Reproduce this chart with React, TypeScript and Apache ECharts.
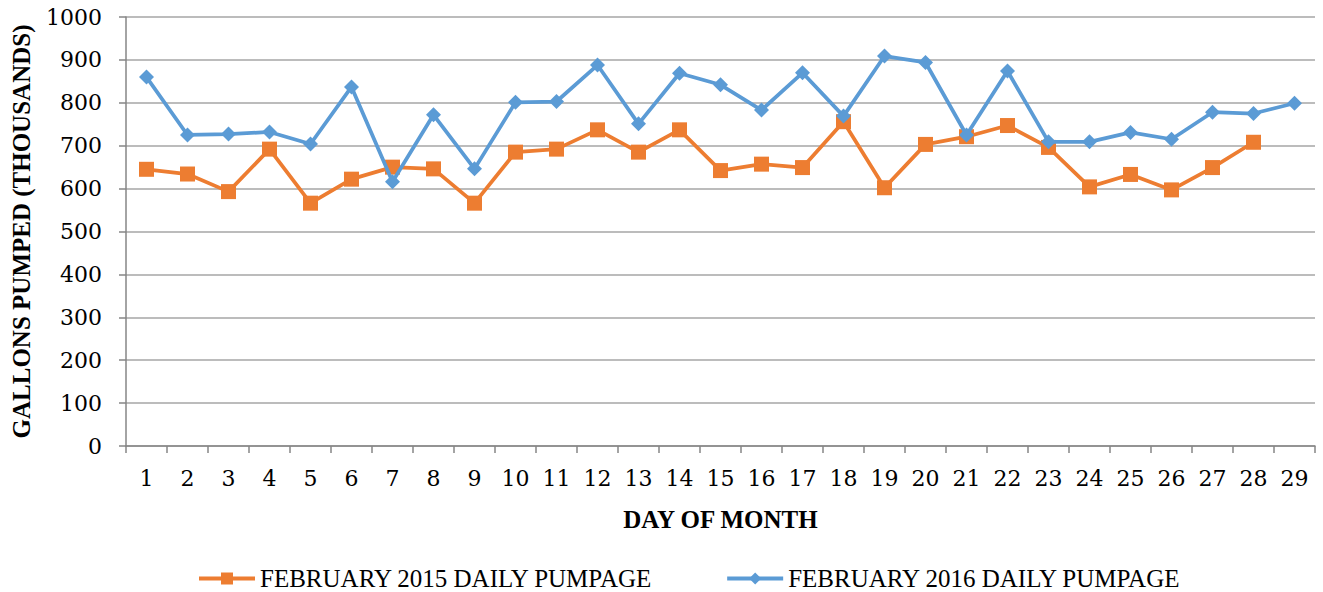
import React, { useEffect, useRef } from "react";
import * as echarts from "echarts";

const days: string[] = [
  "1", "2", "3", "4", "5", "6", "7", "8", "9", "10",
  "11", "12", "13", "14", "15", "16", "17", "18", "19", "20",
  "21", "22", "23", "24", "25", "26", "27", "28", "29",
];

const feb2015: (number | null)[] = [
  645, 634, 593, 692, 566, 622, 650, 646, 566, 685,
  692, 737, 685, 737, 642, 657, 649, 756, 602, 703,
  721, 747, 696, 604, 633, 597, 649, 708, null,
];

const feb2016: number[] = [
  860, 725, 727, 732, 704, 837, 616, 772, 646, 801,
  803, 888, 751, 869, 842, 783, 870, 769, 909, 894,
  725, 874, 709, 709, 731, 715, 778, 775, 799,
];

const seriesNames: string[] = [
  "FEBRUARY 2015 DAILY PUMPAGE",
  "FEBRUARY 2016 DAILY PUMPAGE",
];

export default function App() {
  const ref = useRef<HTMLDivElement>(null);

  useEffect(() => {
    if (!ref.current) return;
    const chart = echarts.init(ref.current, null, { renderer: "svg" });
    const axisGray = "#868686";
    chart.setOption({
      animation: false,
      backgroundColor: "#ffffff",
      grid: {
        left: 126,
        right: 8,
        top: 17,
        bottom: 146,
        containLabel: false,
        outerBoundsMode: "none",
      },
      legend: {
        left: 192,
        top: 561,
        itemWidth: 56,
        itemHeight: 15,
        itemGap: 72,
        lineStyle: { width: 4 },
        textStyle: {
          fontFamily: "Liberation Serif",
          fontSize: 25,
          color: "#000000",
        },
        data: seriesNames,
      },
      xAxis: {
        type: "category",
        data: days,
        boundaryGap: true,
        name: "DAY OF MONTH",
        nameLocation: "middle",
        nameGap: 61,
        nameTextStyle: {
          fontFamily: "Liberation Serif",
          fontWeight: "bold",
          fontSize: 25,
          color: "#000000",
        },
        axisLine: { show: true, lineStyle: { color: axisGray, width: 1.5 } },
        axisTick: { show: true, interval: 0, length: 7, lineStyle: { color: axisGray, width: 1.5 } },
        axisLabel: {
          interval: 0,
          margin: 21,
          fontFamily: "DejaVu Serif",
          fontSize: 22,
          color: "#000000",
        },
        splitLine: { show: false },
      },
      yAxis: {
        type: "value",
        min: 0,
        max: 1000,
        interval: 100,
        name: "GALLONS PUMPED (THOUSANDS)",
        nameLocation: "middle",
        nameRotate: 90,
        nameGap: 92,
        nameTextStyle: {
          fontFamily: "Liberation Serif",
          fontWeight: "bold",
          fontSize: 25,
          color: "#000000",
        },
        axisLine: { show: true, lineStyle: { color: axisGray, width: 1.5 } },
        axisTick: { show: true, length: 7, lineStyle: { color: axisGray, width: 1.5 } },
        axisLabel: {
          margin: 24,
          fontFamily: "DejaVu Serif",
          fontSize: 22,
          color: "#000000",
          formatter: (v: number) => String(v),
        },
        splitLine: { show: true, lineStyle: { color: "#a6a6a6", width: 1.5 } },
      },
      series: [
        {
          name: seriesNames[0],
          type: "line",
          data: feb2015,
          symbol: "rect",
          symbolSize: 15,
          showAllSymbol: true,
          itemStyle: { color: "#ED7D31" },
          lineStyle: { color: "#ED7D31", width: 3.75 },
          z: 2,
        },
        {
          name: seriesNames[1],
          type: "line",
          data: feb2016,
          symbol: "diamond",
          symbolSize: 15,
          showAllSymbol: true,
          itemStyle: { color: "#5B9BD5" },
          lineStyle: { color: "#5B9BD5", width: 3.75 },
          z: 3,
        },
      ],
    });
    return () => {
      chart.dispose();
    };
  }, []);

  return (
    <div
      ref={ref}
      style={{ position: "fixed", left: 0, top: 0, width: 1323, height: 592, background: "#ffffff" }}
    />
  );
}
